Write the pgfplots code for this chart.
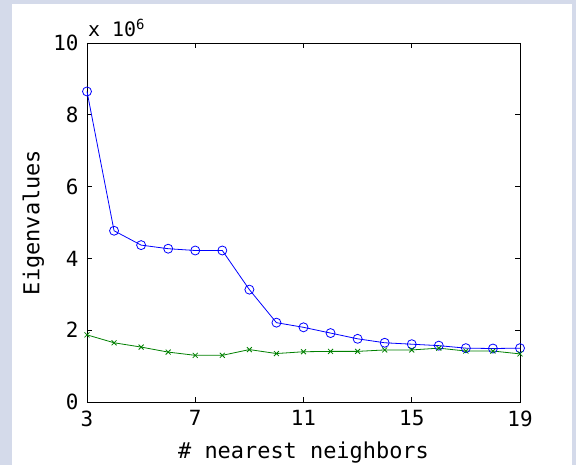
\documentclass[border=0pt]{standalone}
\usepackage{pgfplots}
\pgfplotsset{compat=1.18}
\usepackage{fontspec}
\newfontfamily\mono{DejaVu Sans Mono}
\definecolor{bgblue}{RGB}{212,218,234}
\definecolor{mgreen}{RGB}{0,128,0}
\begin{document}
\begin{tikzpicture}
\fill[bgblue] (-87bp,-63bp) rectangle (489bp,402bp);
\fill[white] (-75bp,-63bp) rectangle (485bp,398bp);
\begin{axis}[
  at={(0,0)}, anchor=south west,
  scale only axis, width=433bp, height=359bp,
  xmin=3, xmax=19, ymin=0, ymax=10,
  xtick={3,7,11,15,19}, ytick={0,2,4,6,8,10},
  tick align=inside, major tick length=5bp,
  axis line style={line width=0.9bp},
  every tick/.style={black, line width=0.9bp},
  /pgf/number format/assume math mode=true,
  tick label style={font=\mono\fontsize{21}{21}\selectfont},
  xticklabel style={yshift=-5bp},
  yticklabel style={xshift=-5bp},
  label style={font=\mono\fontsize{22}{22}\selectfont},
  xlabel={\# nearest neighbors},
  ylabel={Eigenvalues},
  xlabel style={at={(axis description cs:0.5,-0.142)}, anchor=center},
  ylabel style={at={(axis description cs:-0.124,0.5)}, anchor=center, rotate=0},
  clip=false,
]
\addplot[blue, line width=0.8bp, mark=o, mark size=4.5bp, mark options={line width=0.8bp}] coordinates {
 (3,8.65) (4,4.77) (5,4.37) (6,4.27) (7,4.22) (8,4.22) (9,3.13) (10,2.21) (11,2.08)
 (12,1.92) (13,1.76) (14,1.65) (15,1.61) (16,1.57) (17,1.50) (18,1.49) (19,1.50)
};
\addplot[mgreen, line width=0.8bp, mark=x, mark size=3.5bp, mark options={line width=0.8bp}] coordinates {
 (3,1.87) (4,1.65) (5,1.53) (6,1.39) (7,1.30) (8,1.30) (9,1.46) (10,1.35) (11,1.40)
 (12,1.41) (13,1.41) (14,1.45) (15,1.45) (16,1.50) (17,1.42) (18,1.42) (19,1.34)
};
\node[anchor=base west, font=\mono\fontsize{20}{20}\selectfont, inner sep=0pt] at ([xshift=1bp,yshift=6bp]rel axis cs:0,1) {x 10\textsuperscript{6}};
\end{axis}
\pgfresetboundingbox
\useasboundingbox (-87bp,-63bp) rectangle (489bp,402bp);
\end{tikzpicture}
\end{document}
